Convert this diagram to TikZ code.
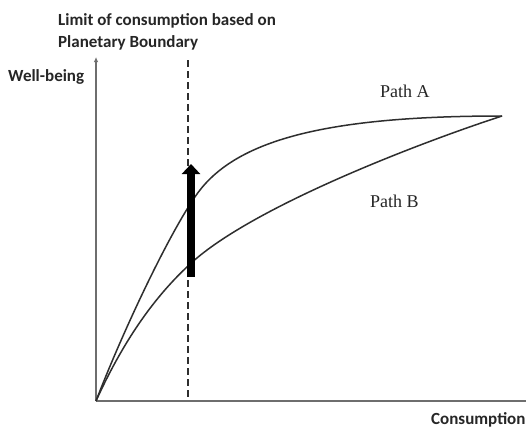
\documentclass[tikz,border=0pt]{standalone}
\usepackage{fontspec}
\setmainfont{Liberation Serif}
\newfontfamily\labelfont{Carlito}
\usetikzlibrary{arrows.meta}
\definecolor{axisgray}{HTML}{6E6E6E}
\definecolor{curvegray}{HTML}{2E2E2E}
\definecolor{inkgray}{HTML}{262626}
\begin{document}
\begin{tikzpicture}[x=1pt,y=-1pt,
  axisline/.style={draw=axisgray,line width=1.5pt},
  curveline/.style={draw=curvegray,line width=1.5pt,line join=round},
  limitline/.style={draw=curvegray,line width=1.4pt,dash pattern=on 7pt off 4pt},
  axislabel/.style={font=\labelfont\bfseries\fontsize{17}{20}\selectfont,text=inkgray,inner sep=0pt,anchor=base west},
  pathlabel/.style={font=\fontsize{18}{21}\selectfont,text=inkgray,inner sep=0pt,anchor=base west},
  shift arrow/.style={line width=8.5pt,draw=black,-{Triangle[width=18pt,length=10pt]}}]
\useasboundingbox (0,0) rectangle (526,428);
\fill[white] (0,0) rectangle (526,428);

% axes
\coordinate (O) at (96,401);
\coordinate (ytop) at (96,57);
\coordinate (xend) at (526,401);
\draw[axisline] (O) -- (xend);
\draw[axisline,-{Latex[length=5pt,width=4.5pt]}] (O) -- (ytop);

% consumption limit
\coordinate (limtop) at (188,60);
\coordinate (limbot) at (188,400);
\draw[limitline] (limtop) -- (limbot);

% well-being paths, both ending at the same point
\coordinate (end) at (502,116);
\coordinate (kneeA) at (200,190);
\coordinate (kneeB) at (188,266);
\draw[curveline] (O) .. controls (126,323) and (175,222) .. (kneeA)
                     .. controls (240,139) and (330,116) .. (end);
\draw[curveline] (O) .. controls (126,335) and (158,294) .. (kneeB)
                     .. controls (248,208) and (422,142) .. (end);

% shift between the paths at the limit
\coordinate (shiftbot) at (191,277);
\coordinate (shifttop) at (191,164);
\draw[shift arrow] (shiftbot) -- (shifttop);

% labels
\node[axislabel] (limlabel1) at (58,26) {Limit of consumption based on};
\node[axislabel] (limlabel2) at (58,47) {Planetary Boundary};
\node[axislabel] (ylabel) at (8,81) {Well-being};
\node[axislabel] (xlabel) at (431,424) {Consumption};
\node[pathlabel] (pathA) at (380,97) {Path A};
\node[pathlabel] (pathB) at (370,207) {Path B};
\end{tikzpicture}
\end{document}
